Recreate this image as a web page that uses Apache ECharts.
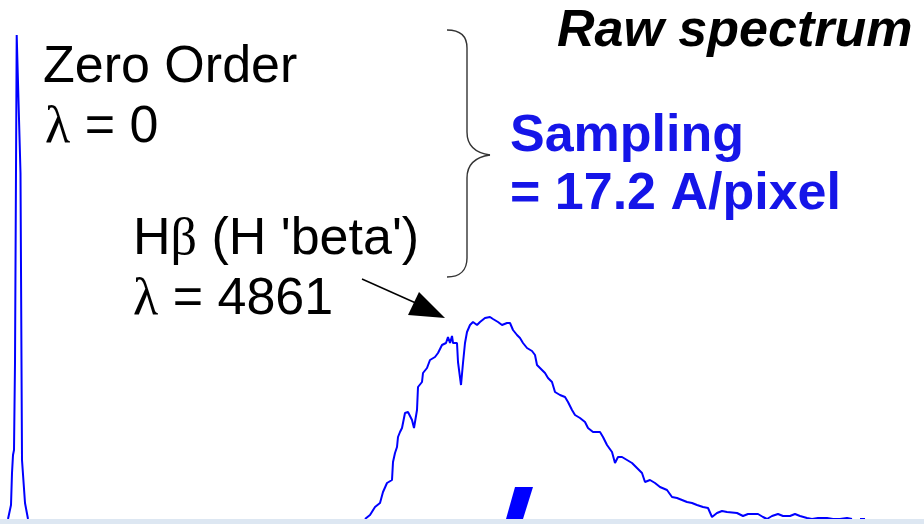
<!DOCTYPE html>
<html>
<head>
<meta charset="utf-8">
<script src="https://cdn.jsdelivr.net/npm/echarts@6/dist/echarts.min.js"></script>
<style>
html,body{margin:0;padding:0;background:#fff;}
#c{width:924px;height:524px;}
</style>
</head>
<body>
<div id="c"></div>
<script>
// Zero-order peak: pixel column vs intensity
var zeroPixel     = [8, 10, 11, 12, 13, 14, 15, 16, 16.7, 17.3, 20.5, 21.5, 22, 24, 25, 27, 28];
var zeroIntensity = [0, 2, 14, 46, 64, 69, 156, 156, 484, 462, 346, 346, 59, 59, 16, 14, 0];

// First-order spectrum: pixel column vs intensity
var humpPixel = [365,370,375,380,383,387,392,393,395,397,398,400,402,405,408,412,414,417,418,422,423,427,430,435,438,442,446,448,450,452,453,457,458,461,463,465,467,470,473,477,480,485,490,493,498,502,507,510,513,517,520,523,527,532,535,537,542,545,548,552,555,560,565,568,572,575,580,585,588,593,600,603,607,612,615,618,622,627,632,637,642,645,650,655,660,667,672,677,682,687,692,697,703,708,712,717,722,727,737,743,748,758,763,767,772,778,783,790,795,800,807,812,818,827,833,840,847,852];
var humpIntensity = [0,4,12,16,27,36,39,57,66,72,82,87,91,106,107,99,91,109,132,137,146,151,159,162,166,174,176,182,176,183,176,176,157,134,156,176,187,194,197,194,197,201,202,200,197,194,196,196,189,184,181,176,171,168,164,154,149,146,141,137,127,124,122,117,109,104,101,97,91,87,87,82,74,67,56,62,62,59,56,51,46,37,39,36,32,29,22,21,19,17,16,14,12,11,2,6,8,7,6,3,5,5,2,0,3,5,3,3,5,3,1,0,1,1,0,0,1,0];
var tailPixel = [860, 865];
var tailIntensity = [0, 0];

function pairs(xs, ys){ return xs.map(function(x,i){ return [x, ys[i]]; }); }

var FONT = '"Liberation Sans", Arial, sans-serif';
var SERIF = '"Liberation Serif", "DejaVu Serif", serif';
var chart = echarts.init(document.getElementById('c'), null, {renderer:'canvas'});
var lineStyle = {color:'#0000ff', width:2};
var braceStyle = {fill:null, stroke:'#333', lineWidth:1.4};
var greekRich = {
  s:{fontFamily:FONT, fontSize:52, fill:'#000'},
  g:{fontFamily:SERIF, fontSize:52, fill:'#000'}
};
chart.setOption({
  animation:false,
  backgroundColor:'#ffffff',
  grid:{left:0, right:0, top:0, bottom:5},
  xAxis:{type:'value', min:0, max:924, show:false},
  yAxis:{type:'value', min:0, max:519, show:false},
  series:[
    {type:'line', name:'zero order', data:pairs(zeroPixel, zeroIntensity), showSymbol:false, lineStyle:lineStyle, clip:false},
    {type:'line', name:'spectrum', data:pairs(humpPixel, humpIntensity), showSymbol:false, lineStyle:lineStyle, clip:false},
    {type:'line', name:'spectrum tail', data:pairs(tailPixel, tailIntensity), showSymbol:false, lineStyle:lineStyle, clip:false}
  ],
  graphic:[
    {type:'rect', shape:{x:0, y:519, width:924, height:5}, style:{fill:'#dde7f2'}, z:100},
    {type:'polygon', shape:{points:[[515,487],[533,487],[523,519],[506,519]]}, style:{fill:'#0000ff'}, z:90},
    {type:'text', style:{x:43, y:68, text:'Zero Order', font:'52px '+FONT, fill:'#000', verticalAlign:'middle'}},
    {type:'text', style:{x:45, y:128, text:'{g|λ}{s| = 0}', rich:greekRich, verticalAlign:'middle'}},
    {type:'text', style:{x:133, y:240, text:"{s|H}{g|β}{s| (H 'beta')}", rich:greekRich, verticalAlign:'middle'}},
    {type:'text', style:{x:133, y:300, text:'{g|λ}{s| = 4861}', rich:greekRich, verticalAlign:'middle'}},
    {type:'text', style:{x:557, y:32, text:'Raw spectrum', font:'italic bold 52px '+FONT, fill:'#000', verticalAlign:'middle'}},
    {type:'text', style:{x:510, y:137, text:'Sampling', font:'bold 52px '+FONT, fill:'#1515e8', verticalAlign:'middle'}},
    {type:'text', style:{x:510, y:195, text:'= 17.2 A/pixel', font:'bold 52px '+FONT, fill:'#1515e8', verticalAlign:'middle'}},
    {type:'bezierCurve', shape:{x1:447,y1:30,cpx1:460,cpy1:30,cpx2:467,cpy2:36,x2:467,y2:48}, style:braceStyle},
    {type:'line', shape:{x1:467,y1:48,x2:467,y2:132}, style:braceStyle},
    {type:'bezierCurve', shape:{x1:467,y1:132,cpx1:467,cpy1:146,cpx2:476,cpy2:153,x2:490,y2:155}, style:braceStyle},
    {type:'bezierCurve', shape:{x1:490,y1:155,cpx1:476,cpy1:157,cpx2:467,cpy2:164,x2:467,y2:178}, style:braceStyle},
    {type:'line', shape:{x1:467,y1:178,x2:467,y2:258}, style:braceStyle},
    {type:'bezierCurve', shape:{x1:467,y1:258,cpx1:467,cpy1:270,cpx2:460,cpy2:277,x2:447,y2:277}, style:braceStyle},
    {type:'line', shape:{x1:362, y1:279, x2:418, y2:304}, style:{stroke:'#000', lineWidth:1.4}},
    {type:'polygon', shape:{points:[[445,318],[419,292],[408,315]]}, style:{fill:'#000'}}
  ]
});
</script>
</body>
</html>
